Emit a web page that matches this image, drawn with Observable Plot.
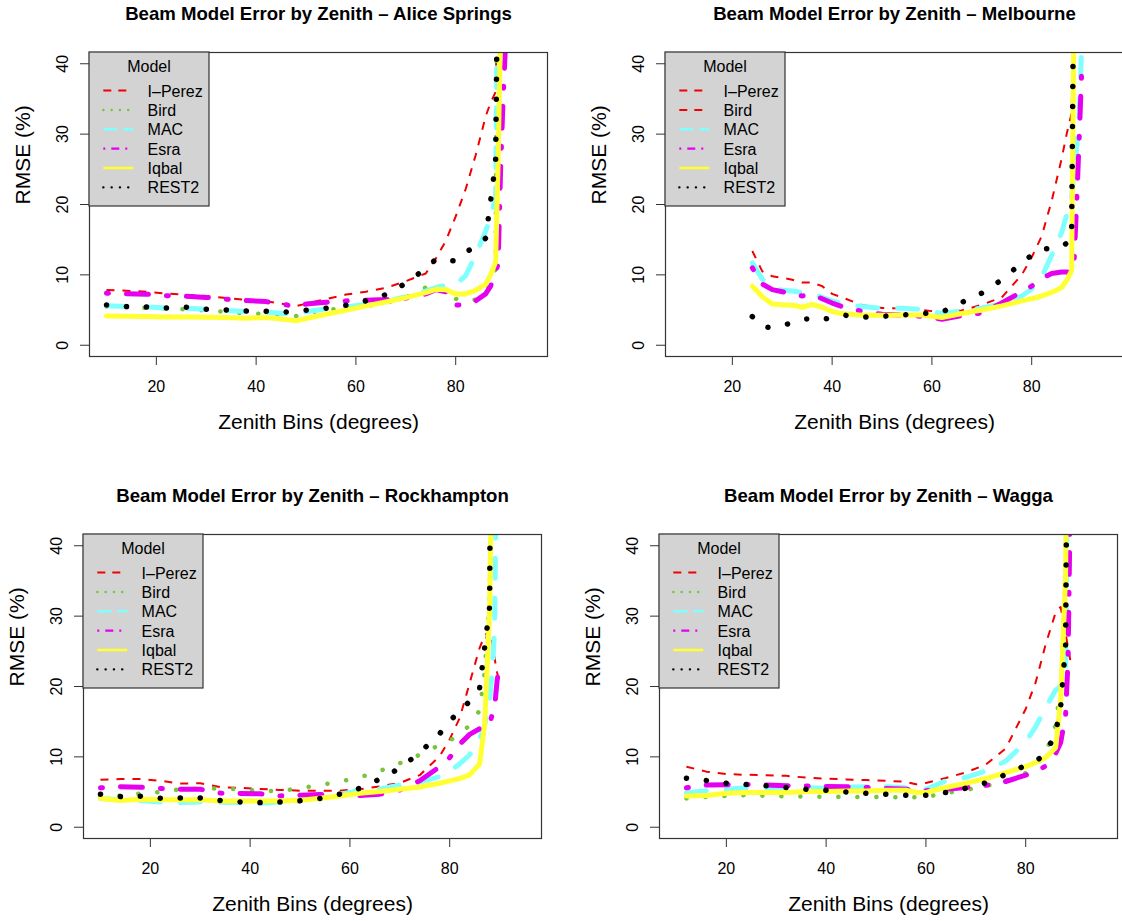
<!DOCTYPE html>
<html><head><meta charset="utf-8">
<script src="https://cdn.jsdelivr.net/npm/d3@7"></script>
<script src="https://cdn.jsdelivr.net/npm/@observablehq/plot@0.6"></script>
<style>
html,body{margin:0;padding:0;background:#fff;overflow:hidden;width:1122px;height:921px;}
#root{position:relative;width:1122px;height:921px;overflow:hidden;background:#fff;}
.panel{position:absolute;width:561px;height:460px;}
.panel svg{max-width:none !important;}
</style></head><body><div id="root"></div>
<script>
const FONT = '"Liberation Sans", Arial, Helvetica, sans-serif';
const seriesNames = ["I\u2013Perez", "Bird", "MAC", "Esra", "Iqbal", "REST2"];
const xTicks = [20, 40, 60, 80];
const yTicks = [0, 10, 20, 30, 40];

// ---- Alice Springs ----
const aliceZenith = [10,14,18,22,26,30,34,38,42,46,48,50,54,58,62,66,70,74,76,78,80,82,84,86,87,88,88.5,89,89.5,90];
const aliceIPerez = [7.85,7.75,7.6,7.35,7.15,7.0,6.7,6.45,6.25,5.8,5.55,5.9,6.55,7.2,7.6,8.15,9.1,10.2,12.3,14.8,18.3,22.2,27.0,32.5,34.5,36.0,55,90,120,150];
const aliceBird   = [5.5,5.4,5.3,5.2,5.1,4.95,4.75,4.5,4.45,4.3,4.15,4.6,5.0,5.3,5.55,6.0,6.8,8.2,8.8,8.2,6.6,6.2,6.5,7.4,8.8,10.8,110,200,250,300];
const aliceMAC    = [5.6,5.5,5.45,5.3,5.25,5.1,4.95,4.8,4.7,4.5,4.3,4.75,5.15,5.45,5.8,6.2,6.9,7.7,8.2,8.5,8.6,9.9,12.8,16.2,18.3,21.0,60,120,150,180];
const aliceEsra   = [7.4,7.3,7.25,7.05,6.95,6.8,6.55,6.35,6.2,5.75,5.45,5.85,6.1,6.3,6.4,6.5,6.7,7.3,7.9,7.6,5.7,5.8,6.3,7.3,8.4,10.5,11.5,25,35,43];
const aliceIqbal  = [4.17,4.12,4.07,4.02,4.0,3.98,3.93,3.85,3.93,3.65,3.46,3.8,4.4,4.97,5.59,6.15,6.77,7.48,7.95,7.9,7.29,7.29,7.81,8.7,10.0,11.8,26,46,70,100];
const aliceREST2  = [5.73,5.49,5.45,5.3,5.4,5.11,5.02,4.88,4.83,4.73,4.85,4.97,5.26,5.68,6.3,7.2,8.8,10.9,12.2,12.0,12.0,13.2,14.1,15.2,20.5,26.0,60,95,130,160];

// ---- Melbourne ----
const melbZenith = [24,26,28,30,32,34,36,38,40,42,46,50,54,58,62,66,70,74,78,80,82,84,86,87,88,88.5,89,89.5,90];
const melbIPerez = [13.4,10.5,9.8,9.6,9.3,8.9,8.9,8.4,7.3,6.8,5.7,5.3,5.2,5.0,4.7,4.95,5.75,6.8,10.0,12.5,15.5,20.5,26.5,30,33,50,80,110,140];
const melbBird   = [];
const melbMAC    = [11.7,9.4,8.2,7.8,7.7,7.5,7.3,6.8,6.3,5.9,5.5,5.25,5.25,5.1,4.5,4.9,5.3,5.9,7.0,8.0,9.7,12.8,16.0,18.5,21,24.5,28,32.5,42];
const melbEsra   = [11.0,8.7,7.9,7.6,7.3,7.0,7.2,6.6,6.0,5.5,4.8,4.4,4.3,4.1,3.7,4.2,4.6,6.0,7.6,8.4,9.5,10.2,10.4,10.4,10.3,12,20,29,38.6];
const melbIqbal  = [8.4,6.9,5.85,5.75,5.7,5.4,5.8,5.4,4.8,4.5,4.25,4.25,4.3,4.3,3.95,4.5,5.0,5.6,6.3,6.6,7.0,7.5,8.2,9.2,10.6,49,90,130,170];
const melbREST2  = [4.07,2.6,2.5,2.8,3.2,3.7,3.8,3.6,4.0,4.3,4.0,4.1,4.3,4.5,4.7,6.1,7.4,9.3,11.7,12.8,13.7,13.75,14.0,14.5,15.2,60,100,140,180];

// ---- Rockhampton ----
const rockZenith = [10,14,18,22,26,30,34,38,42,46,50,54,58,62,66,70,74,78,80,82,84,86,87,88,88.5,89,89.5,90];
const rockIPerez = [6.75,6.85,6.85,6.6,6.2,6.25,5.7,5.6,5.45,5.3,5.2,5.2,5.2,5.4,5.8,6.3,7.4,10.1,12.5,15.5,20.5,25.5,27.2,28,26.5,24,22,20.5];
const rockBird   = [4.3,4.5,4.8,5.0,5.4,5.5,5.5,5.4,5.15,5.15,5.55,6.0,6.5,7.1,8.0,9.1,10.3,11.7,12.3,13.2,14.5,16.6,22,32,60,100,140,180];
const rockMAC    = [4.1,3.9,3.8,3.6,3.5,3.6,3.55,3.5,3.4,3.6,3.9,4.3,4.7,5.2,5.45,6.0,6.4,7.2,8.0,9.0,10.3,12.5,14.5,18,22,28,60,100];
const rockEsra   = [5.6,5.75,5.7,5.5,5.4,5.4,4.85,4.8,4.75,4.45,4.55,4.65,4.6,4.5,4.7,5.3,6.6,8.6,9.9,11.8,13.2,14.0,14.2,14.5,16.0,17.0,20.8,23.3];
const rockIqbal  = [4.07,3.8,3.98,3.89,3.89,3.89,3.74,3.74,3.74,3.74,3.84,4.12,4.45,4.83,5.07,5.4,5.73,6.25,6.59,6.92,7.44,9.0,14.5,31,55,100,150,200];
const rockREST2  = [4.7,4.36,4.4,4.12,4.17,4.17,3.8,3.6,3.5,3.6,3.75,4.1,4.7,5.55,6.85,8.4,10.6,13.3,15.1,16.5,17.9,19.8,25.5,31.3,100,150,200,250];

// ---- Wagga ----
const waggaZenith = [12,16,20,24,28,32,36,40,44,48,52,56,58,60,64,68,72,76,80,82,84,86,87,88,88.5,89,89.5,90];
const waggaIPerez = [8.6,7.9,7.55,7.45,7.4,7.3,7.05,6.9,6.8,6.7,6.6,6.45,6.1,6.3,7.0,7.8,8.9,11.2,16.8,20.6,26.0,30.5,31.3,27.5,25.5,23.5];
const waggaBird   = [4.1,4.3,4.45,4.55,4.45,4.4,4.35,4.35,4.3,4.3,4.3,4.25,4.25,4.3,4.85,5.3,5.85,6.6,7.7,8.7,10.5,14.5,20,30,80,130,180,230];
const waggaMAC    = [4.9,5.2,5.4,5.6,5.65,5.7,5.6,5.55,5.7,5.75,5.75,5.6,5.3,5.4,6.6,7.1,8.0,9.4,12.1,14.3,17.0,19.5,20,22,60,110,160,210];
const waggaEsra   = [5.6,6.0,6.05,6.1,6.0,5.9,5.85,5.8,5.75,5.65,5.5,5.4,5.2,5.2,5.4,5.65,5.95,6.5,7.4,7.9,8.7,10.5,12,16,24,50,80,110];
const waggaIqbal  = [4.45,4.5,4.83,4.93,4.93,4.93,5.07,5.07,5.16,5.16,5.26,5.25,4.95,4.95,5.64,6.25,6.92,7.77,8.62,9.2,9.9,11.3,18,36,80,130,180,230];
const waggaREST2  = [6.97,6.63,6.25,6.07,5.88,5.64,5.4,5.26,5.02,4.83,4.69,4.55,4.5,4.55,4.93,5.55,6.3,7.5,8.8,9.4,10.4,13.5,17,26,80,130,180,230];

const stations = [
  {title: "Beam Model Error by Zenith \u2013 Alice Springs", zenith: aliceZenith,
   values: [aliceIPerez, aliceBird, aliceMAC, aliceEsra, aliceIqbal, aliceREST2], birdKey: "Bird"},
  {title: "Beam Model Error by Zenith \u2013 Melbourne", zenith: melbZenith,
   values: [melbIPerez, melbBird, melbMAC, melbEsra, melbIqbal, melbREST2], birdKey: "I\u2013Perez"},
  {title: "Beam Model Error by Zenith \u2013 Rockhampton", zenith: rockZenith,
   values: [rockIPerez, rockBird, rockMAC, rockEsra, rockIqbal, rockREST2], birdKey: "Bird"},
  {title: "Beam Model Error by Zenith \u2013 Wagga", zenith: waggaZenith,
   values: [waggaIPerez, waggaBird, waggaMAC, waggaEsra, waggaIqbal, waggaREST2], birdKey: "Bird"}
];

// layout (pixels)
const W = 561, H = 460, ML = 89, MT = 52, PW = 458, PH = 304;
const panelPos = [[-0.3, -0.3], [575.8, -0.3], [-6, 481.7], [569.7, 481.7]];

const lineStyles = {
  "I\u2013Perez": {stroke: "#f00000", strokeWidth: 2, strokeDasharray: "8 8", strokeLinecap: "butt"},
  "Bird":  {stroke: "#78c43c", strokeWidth: 4.5, strokeDasharray: "0.1 18.9", strokeLinecap: "round"},
  "MAC":   {stroke: "#80ffff", strokeWidth: 5, strokeDasharray: "20 20", strokeLinecap: "round"},
  "Esra":  {stroke: "#e600f0", strokeWidth: 5, strokeDasharray: "2 18 22 18", strokeLinecap: "round"},
  "Iqbal": {stroke: "#ffff33", strokeWidth: 5, strokeLinecap: "round"},
  "REST2": {stroke: "#000000", strokeWidth: 5.5, strokeDasharray: "0.1 19.9", strokeLinecap: "round"}
};
const legendStyles = {
  "I\u2013Perez": {stroke: "#f00000", w: 2, dash: "8 7", cap: "butt"},
  "Bird":  {stroke: "#78c43c", w: 2.4, dash: "0.1 8.2", cap: "round"},
  "MAC":   {stroke: "#80ffff", w: 2.4, dash: "14 6", cap: "butt"},
  "Esra":  {stroke: "#e600f0", w: 2.4, dash: "2 6 8 6", cap: "butt"},
  "Iqbal": {stroke: "#ffff33", w: 2.6, dash: null, cap: "butt"},
  "REST2": {stroke: "#000000", w: 2.4, dash: "0.1 8.2", cap: "round"}
};

const root = document.getElementById("root");

stations.forEach((st, k) => {
  const lineMarks = seriesNames.map((name, j) => {
    const vals = st.values[j];
    const rows = st.zenith.map((z, i) => ({z, v: (vals[i] == null ? NaN : vals[i])}));
    return Plot.line(rows, {x: "z", y: "v", ...lineStyles[name]});
  });

  const svg = Plot.plot({
    width: W, height: H,
    marginLeft: ML, marginTop: MT, marginRight: W - ML - PW, marginBottom: H - MT - PH,
    x: {domain: [6.6, 98.4]},
    y: {domain: [-1.6, 41.6]},
    style: {fontFamily: FONT, color: "#000", background: "transparent", overflow: "visible", maxWidth: "none"},
    marks: [
      ...lineMarks,
      Plot.frame({stroke: "#333", strokeWidth: 1.2}),
      Plot.axisX({ticks: xTicks, tickSize: 9, tickPadding: 15, fontSize: 16, label: null, stroke: "#333"}),
      Plot.axisY({ticks: yTicks, tickSize: 9, tickFormat: () => "", label: null, stroke: "#333"}),
      Plot.text(yTicks, {y: d => d, text: d => String(d), frameAnchor: "left", dx: -21.8, rotate: -90,
        lineAnchor: "bottom", textAnchor: "middle", fontSize: 16, fill: "#000"}),
      Plot.text([st.title], {text: d => d, frameAnchor: "top", dy: -32.4, lineAnchor: "bottom",
        fontSize: 18.6, fontWeight: "bold", fill: "#000"}),
      Plot.text(["Zenith Bins (degrees)"], {text: d => d, frameAnchor: "bottom", dy: 72.5, lineAnchor: "bottom",
        fontSize: 21, fill: "#000"}),
      Plot.text(["RMSE (%)"], {text: d => d, frameAnchor: "left", dx: -60, rotate: -90, lineAnchor: "bottom",
        fontSize: 21, fill: "#000"})
    ]
  });
  svg.style.maxWidth = "none";
  svg.setAttribute("width", W);
  svg.setAttribute("height", H);
  svg.style.width = W + "px";
  svg.style.height = H + "px";

  // clip data lines to the plotting region
  const s = d3.select(svg);
  const cid = "clip" + k;
  s.append("defs").append("clipPath").attr("id", cid)
    .append("rect").attr("x", ML).attr("y", MT).attr("width", PW).attr("height", PH);
  s.selectAll('g[aria-label="line"]').attr("clip-path", `url(#${cid})`);

  // legend
  const g = s.append("g").attr("font-family", FONT).attr("font-size", 16);
  g.append("rect").attr("x", ML).attr("y", MT).attr("width", 120).attr("height", 154)
    .attr("fill", "#d3d3d3").attr("stroke", "#333").attr("stroke-width", 1.2);
  g.append("text").attr("x", ML + 60).attr("y", MT + 20.1).attr("text-anchor", "middle").attr("fill", "#000").text("Model");
  seriesNames.forEach((name, i) => {
    const y = MT + 38.6 + i * 19.35;
    const ls = legendStyles[name === "Bird" ? st.birdKey : name];
    const ln = g.append("line").attr("x1", ML + 14.3).attr("x2", ML + 44.3).attr("y1", y).attr("y2", y)
      .attr("stroke", ls.stroke).attr("stroke-width", ls.w).attr("stroke-linecap", ls.cap);
    if (ls.dash) ln.attr("stroke-dasharray", ls.dash);
    g.append("text").attr("x", ML + 58.6).attr("y", y + 6).attr("text-anchor", "start").attr("fill", "#000").text(name);
  });

  const div = document.createElement("div");
  div.className = "panel";
  div.style.left = panelPos[k][0] + "px";
  div.style.top = panelPos[k][1] + "px";
  div.appendChild(svg);
  root.appendChild(div);
});
</script></body></html>
